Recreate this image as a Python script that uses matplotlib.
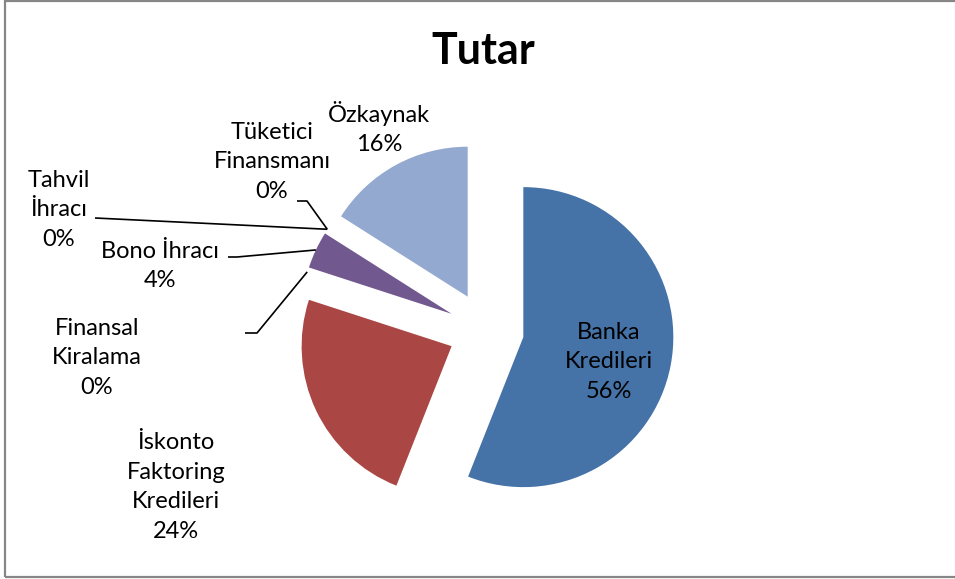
import numpy as np
import matplotlib
matplotlib.use('Agg')
import matplotlib.pyplot as plt
from matplotlib.patches import Rectangle

# data
labels = ['Banka\nKredileri', 'İskonto\nFaktoring\nKredileri', 'Finansal\nKiralama',
          'Bono İhracı', 'Tahvil\nİhracı', 'Tüketici\nFinansmanı', 'Özkaynak']
values = [56, 24, 0, 4, 0, 0, 16]
colors = ['#4572A7', '#AA4643', '#89A54E', '#71588F', '#4198AF', '#DB843D', '#93A9CF']

W, H = 955, 579
plt.rcParams['font.family'] = ['Lato', 'DejaVu Sans']

fig = plt.figure(figsize=(W / 100, H / 100), dpi=100)
ax = fig.add_axes([0, 0, 1, 1])

center = (486, H - 330)
radius = 150
expl = 38

ax.pie(values, colors=colors, startangle=90, counterclock=False,
       explode=[expl] * len(values), center=center, radius=radius,
       wedgeprops=dict(linewidth=0), frame=True)
ax.set_xlim(0, W)
ax.set_ylim(0, H)
ax.set_aspect('equal')
ax.axis('off')

# mid angle of each wedge -> anchor on outer edge
total = float(sum(values))
cum = np.cumsum([0] + values)
mids = 90 - 360 * (cum[:-1] + cum[1:]) / 2 / total

def anchor(i):
    a = np.radians(mids[i])
    r = expl + radius
    return center[0] + r * np.cos(a), center[1] + r * np.sin(a)

# label positions (x, y of middle of text block, image coords)
label_pos = [(609, 362), (176, 487), (97, 358), (160, 266), (59, 210), (272, 162), (379, 128)]
fs = 17
for i, (lab, v) in enumerate(zip(labels, values)):
    x, y = label_pos[i]
    ax.text(x, H - y, '%s\n%d%%' % (lab, v), ha='center', va='center',
            fontsize=fs, linespacing=1.5, color='black')

# leader lines (start of line near the label)
leaders = {2: [(245, 333), (257, 333)], 3: [(228, 257), (237, 257)],
           4: [(95, 218)], 5: [(297, 201), (307, 201)]}
for i, pts in leaders.items():
    ax_, ay_ = anchor(i)
    xs = [p[0] for p in pts] + [ax_]
    ys = [H - p[1] for p in pts] + [ay_]
    ax.plot(xs, ys, color='black', lw=1.2, solid_capstyle='butt')

ax.text(483, H - 51, 'Tutar', ha='center', va='center', fontsize=31, fontweight='bold')

ax.add_patch(Rectangle((5, 2), W + 10, H - 3, fill=False, edgecolor='#868686', lw=1.6, clip_on=False))

fig.savefig('out.png', dpi=100)
